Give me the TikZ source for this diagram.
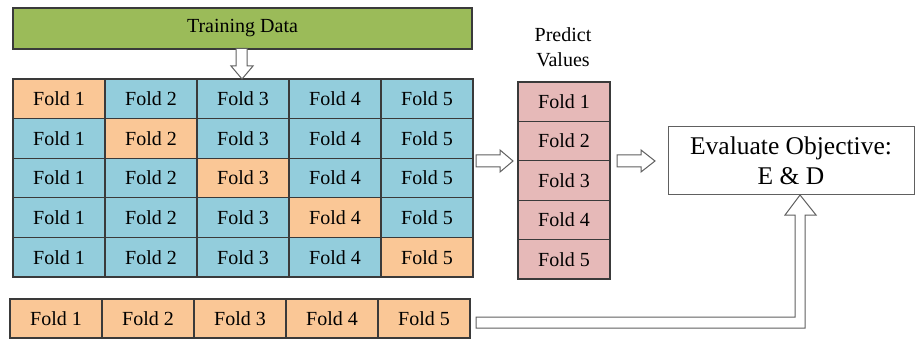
\documentclass[tikz,border=0pt]{standalone}
\usepackage{fontspec}
\setmainfont{Liberation Serif}
\newfontfamily\labelfont{Liberation Serif}
\definecolor{foldorange}{HTML}{FAC796}
\definecolor{foldblue}{HTML}{93CDDC}
\definecolor{datagreen}{HTML}{9BBB59}
\definecolor{predpink}{HTML}{E6B9B8}
\definecolor{edgegray}{HTML}{3A3A3A}
\definecolor{arrowgray}{HTML}{606060}
\begin{document}
\begin{tikzpicture}[x=1pt,y=-1pt,
  cell/.style={draw=edgegray,line width=1.1pt,inner sep=0pt,minimum width=92pt,minimum height=39.6pt,font=\labelfont\fontsize{20}{22}\selectfont},
  blockarrow/.style={draw=arrowgray,fill=white,line width=1pt,line join=miter}]
\useasboundingbox (0,0) rectangle (915,339);

% training data bar
\node[draw=edgegray,fill=datagreen,line width=1.1pt,minimum width=459pt,minimum height=41pt,inner sep=0pt,
  font=\labelfont\fontsize{20}{22}\selectfont] (train) at (242.5,28.5) {Training Data};

% 5x5 grid of folds, held-out fold on the diagonal
\foreach \r in {1,...,5}{
  \foreach \c in {1,...,5}{
    \ifnum\r=\c
      \node[cell,fill=foldorange] (g\r\c) at ({13+92*(\c-0.5)},{79+39.6*(\r-0.5)}) {Fold \c};
    \else
      \node[cell,fill=foldblue] (g\r\c) at ({13+92*(\c-0.5)},{79+39.6*(\r-0.5)}) {Fold \c};
    \fi
  }
}

% predicted values column
\node[font=\labelfont\fontsize{20}{25}\selectfont,align=center] (predlbl) at (563,47) {Predict\\Values};
\foreach \r in {1,...,5}{
  \node[cell,fill=predpink,minimum width=92pt,minimum height=39.4pt] (p\r) at (564,{82+39.4*(\r-0.5)}) {Fold \r};
}

% bottom row of folds
\foreach \c in {1,...,5}{
  \node[cell,fill=foldorange,minimum height=39pt] (b\c) at ({10+92*(\c-0.5)},318.5) {Fold \c};
}

% objective box
\node[draw=arrowgray,line width=1pt,fill=white,minimum width=246pt,minimum height=68pt,inner sep=0pt,
  align=center,font=\labelfont\fontsize{25.5}{30}\selectfont] (eval) at (791,161) {Evaluate Objective:\\E \& D};

% hollow block arrows
\draw[blockarrow] (236,48.5) -- (247,48.5) -- (247,66) -- (253,66) -- (242,79) -- (231,66) -- (236,66) -- cycle;
\draw[blockarrow] (476,155) -- (500,155) -- (500,150) -- (513,161) -- (500,172) -- (500,167) -- (476,167) -- cycle;
\draw[blockarrow] (617,155) -- (641,155) -- (641,150) -- (655,161) -- (641,172) -- (641,167) -- (617,167) -- cycle;
\draw[blockarrow] (476,317) -- (795,317) -- (795,215) -- (785,215) -- (800,195) -- (816,215) -- (805,215)
  -- (805,328) -- (476,328) -- cycle;
\end{tikzpicture}
\end{document}
